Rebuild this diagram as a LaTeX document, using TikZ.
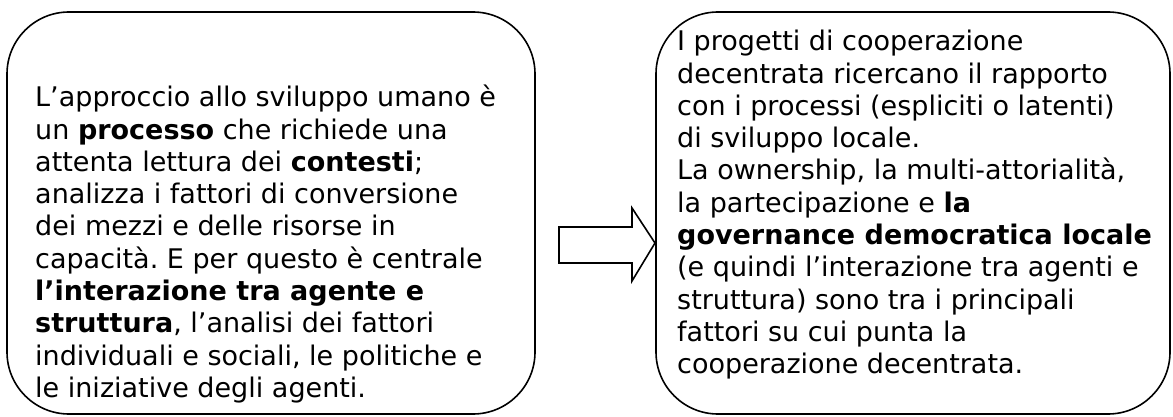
\documentclass[tikz,border=0pt]{standalone}
\usepackage{fontspec}
\setmainfont{DejaVu Sans}
\frenchspacing
\begin{document}
\begin{tikzpicture}[x=1pt,y=1pt,
  panel/.style={draw=black,line width=1.6pt,rounded corners=62pt},
  paneltext/.style={anchor=north west,inner sep=0pt,align=left,
    font=\fontsize{27}{32.3}\selectfont},
  blockarrow/.style={draw=black,line width=1.6pt,fill=white,line join=miter}]
\useasboundingbox (0,0) rectangle (1173,416);
\draw[panel] (7,2) rectangle (535,404);
\draw[panel] (656,2) rectangle (1170,404);
\node[paneltext] (left) at (35,331) {L’approccio allo sviluppo umano è\\
un \textbf{processo} che richiede una\\
attenta lettura dei \textbf{contesti};\\
analizza i fattori di conversione\\
dei mezzi e delle risorse in\\
capacità. E per questo è centrale\\
\textbf{l’interazione tra agente e}\\
\textbf{struttura}, l’analisi dei fattori\\
individuali e sociali, le politiche e\\
le iniziative degli agenti.};
\node[paneltext] (right) at (677,386) {I progetti di cooperazione\\
decentrata ricercano il rapporto\\
con i processi (espliciti o latenti)\\
di sviluppo locale.\\
La ownership, la multi-attorialità,\\
la partecipazione e \textbf{la}\\
\textbf{governance democratica locale}\\
(e quindi l’interazione tra agenti e\\
struttura) sono tra i principali\\
fattori su cui punta la\\
cooperazione decentrata.};
\draw[blockarrow] (559,189) -- (632,189) -- (632,208) -- (655,173) -- (632,135) -- (632,153) -- (559,153) -- cycle;
\end{tikzpicture}
\end{document}
